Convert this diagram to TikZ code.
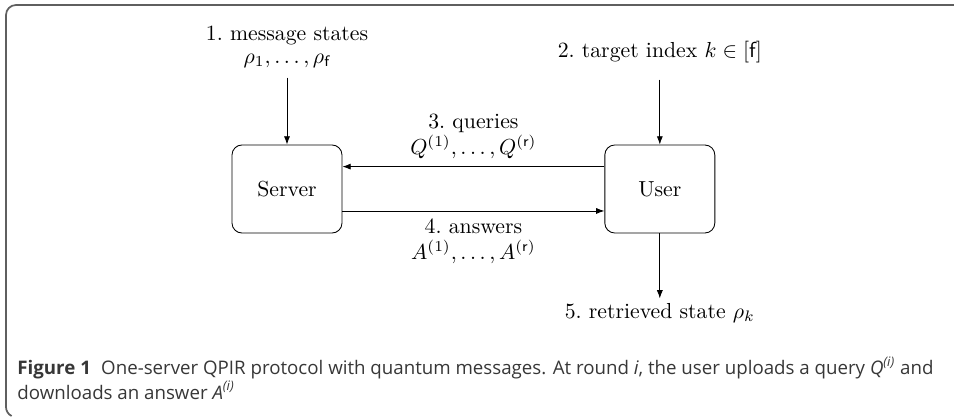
\documentclass[tikz,border=0pt]{standalone}
\usepackage{amsmath,amssymb}
\usepackage{fontspec}
\usepackage{tikz}
\usetikzlibrary{arrows.meta,positioning}
\newfontfamily\capfont{Open Sans}
\definecolor{framegray}{RGB}{95,95,95}
\definecolor{capgray}{RGB}{55,55,55}

\begin{document}
\begin{tikzpicture}[x=0.46pt, y=0.46pt,
  party/.style={draw, rounded corners=4.6pt, minimum width=50.6pt, minimum height=40.5pt, font=\normalsize},
  arr/.style={-{Latex[length=3.8pt,width=2.8pt]}},
  caption/.style={anchor=base west, inner sep=0pt, align=left, text=capgray, font=\capfont\fontsize{8.6}{10.1}\selectfont}]
\useasboundingbox (0,0) rectangle (954,416);
\draw[framegray, line width=0.8pt] (954,411) -- (16,411) arc[start angle=90, end angle=180, radius=10] -- (6,9) arc[start angle=180, end angle=244, radius=10];
\node[party] (server) at (287,227) {Server};
\node[party, right=120.5pt of server] (user) {User};
\node[align=center, inner ysep=4.5pt, above=30.8pt of server] (msg) {1.~message states\\[-1.5pt]$\rho_1,\dots,\rho_{\mathsf{f}}$};
\node[inner ysep=7.5pt, above=29.9pt of user] (target) {2.~target index $k\in[\mathsf{f}]$};
\node[inner ysep=2pt, below=29.9pt of user] (ret) {5.~retrieved state $\rho_k$};
\draw[arr] (msg) -- (server);
\draw[arr] (target) -- (user);
\draw[arr] (user) -- (ret);
\draw[arr] ([yshift=10.3pt]user.west) -- node[above, align=center] {3.~queries\\$Q^{(1)},\dots,Q^{(\mathsf{r})}$} ([yshift=10.3pt]server.east);
\draw[arr] ([yshift=-10.1pt]server.east) -- node[below, align=center] {4.~answers\\$A^{(1)},\dots,A^{(\mathsf{r})}$} ([yshift=-10.1pt]user.west);
\node[caption] (cap) at (17,17) {\textbf{Figure 1}\hspace{0.55em}One-server QPIR protocol with quantum messages. At round \textit{i}, the user uploads a query \textit{Q\textsuperscript{(i)}} and\\downloads an answer \textit{A\textsuperscript{(i)}}};
\end{tikzpicture}
\end{document}
